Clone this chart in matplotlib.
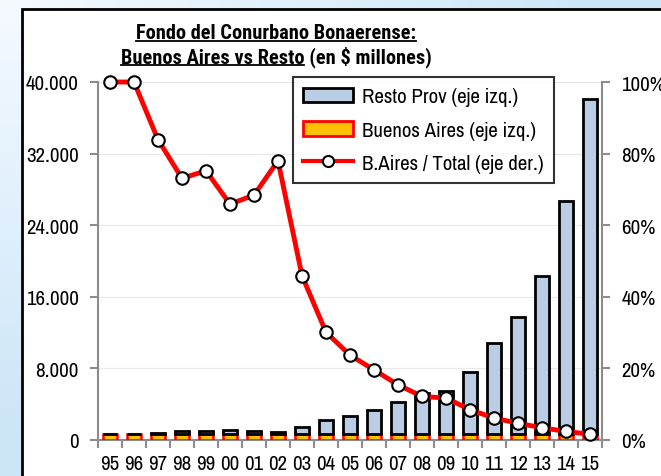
import matplotlib
matplotlib.use("Agg")
import matplotlib.pyplot as plt
import numpy as np
from matplotlib.patches import Rectangle, Patch
from matplotlib.lines import Line2D
from matplotlib.ticker import FuncFormatter, FixedLocator

NARROW = ["Archivo Narrow", "Liberation Sans", "DejaVu Sans"]
NARROW_BOLD = ["Roboto Condensed", "Liberation Sans", "DejaVu Sans"]

# ── Data (millones de $) ──
years = ["95", "96", "97", "98", "99", "00", "01", "02", "03", "04", "05",
         "06", "07", "08", "09", "10", "11", "12", "13", "14", "15"]
bs_as = [650] * 21
resto = [0, 0, 170, 320, 320, 430, 320, 240, 800, 1550, 2070,
         2670, 3600, 4650, 4850, 6980, 10150, 13070, 17640, 26050, 37500]
ratio = [1.00, 1.00, 0.839, 0.731, 0.752, 0.659, 0.684, 0.780, 0.459, 0.301, 0.237,
         0.196, 0.154, 0.122, 0.117, 0.085, 0.061, 0.047, 0.034, 0.024, 0.016]

BLUE_FILL = "#b9cde5"
ORANGE = "#ffc000"
RED = "#ff0000"
GRAY = "#8c8c8c"
FS = 15

W, H = 661, 477
fig = plt.figure(figsize=(W / 100, H / 100), dpi=100)

# ── background gradient + white frame ──
bg = fig.add_axes([0, 0, 1, 1], zorder=-10)
xx, yy = np.meshgrid(np.linspace(0, 1, 200), np.linspace(0, 1, 200))
t = np.clip(np.maximum(xx * 1.1, yy * 1.1), 0, 1)
c0 = np.array([0.96, 0.98, 1.0])
c1 = np.array([0.80, 0.90, 0.97])
img = c0[None, None, :] * (1 - t[..., None]) + c1[None, None, :] * t[..., None]
bg.imshow(img, extent=[0, W, H, 0], aspect="auto")
bg.add_patch(Rectangle((22, 10), W, H, facecolor="white", edgecolor="black", lw=2))
bg.set_xlim(0, W)
bg.set_ylim(H, 0)
bg.axis("off")

# ── main axes ──
ax = fig.add_axes([98 / W, (H - 441) / H, 504 / W, 358 / H])
ax.set_facecolor("none")
x = np.arange(len(years))
ax.bar(x, bs_as, width=0.55, color=ORANGE, edgecolor=RED, lw=1.8, zorder=3)
ax.bar(x, resto, bottom=bs_as, width=0.55, color=BLUE_FILL, edgecolor="black", lw=2, zorder=3)
ax.set_xlim(-0.5, len(years) - 0.5)
ax.set_ylim(0, 40000)
ax.set_yticks(np.arange(0, 40001, 8000))
ax.yaxis.set_major_formatter(FuncFormatter(lambda v, p: f"{int(v):,}".replace(",", ".")))
ax.grid(axis="y", color="#e8e8e8", lw=0.8, zorder=0)
ax.set_xticks(x)
ax.set_xticklabels(years)
ax.xaxis.set_minor_locator(FixedLocator(np.arange(-0.5, len(years), 1)))
ax.tick_params(axis="x", which="major", length=0, pad=10)
ax.tick_params(axis="x", which="minor", length=6, width=1.5, color=GRAY)
ax.tick_params(axis="y", length=6, width=1.5, color=GRAY, pad=8)
for lab in ax.get_xticklabels() + ax.get_yticklabels():
    lab.set_family(NARROW)
    lab.set_fontsize(FS)
for s in ["top", "right"]:
    ax.spines[s].set_visible(False)
for s in ["left", "bottom"]:
    ax.spines[s].set_color(GRAY)
    ax.spines[s].set_linewidth(1.5)

# ── ratio (right axis) ──
ax2 = ax.twinx()
ax2.plot(x, ratio, color=RED, lw=3.5, marker="o", ms=9, mfc="white", mec="black",
         mew=1.5, zorder=5, clip_on=False)
ax2.set_ylim(0, 1)
ax2.set_yticks(np.arange(0, 1.01, 0.2))
ax2.yaxis.set_major_formatter(FuncFormatter(lambda v, p: f"{v*100:.0f}%"))
ax2.tick_params(axis="y", length=6, width=1.5, color=GRAY, pad=8)
for lab in ax2.get_yticklabels():
    lab.set_family(NARROW)
    lab.set_fontsize(FS)
for s in ["top", "left", "bottom"]:
    ax2.spines[s].set_visible(False)
ax2.spines["right"].set_color(GRAY)
ax2.spines["right"].set_linewidth(1.5)

# ── legend ──
handles = [
    Patch(facecolor=BLUE_FILL, edgecolor="black", lw=2),
    Patch(facecolor=ORANGE, edgecolor=RED, lw=2),
    Line2D([0], [0], color=RED, lw=3, marker="o", ms=8, mfc="white", mec="black", mew=1.5),
]
labels = ["Resto Prov (eje izq.)", "Buenos Aires (eje izq.)", "B.Aires / Total (eje der.)"]
leg = ax2.legend(handles, labels, loc="upper left", bbox_to_anchor=(293 / W, 1 - 78 / H),
                 bbox_transform=fig.transFigure, borderaxespad=0, frameon=True, fancybox=False,
                 edgecolor="black", handlelength=2.4, handleheight=0.7, labelspacing=0.68,
                 borderpad=0.5, handletextpad=0.4, prop={"family": NARROW, "size": FS})
leg.get_frame().set_linewidth(1.5)
leg.set_zorder(10)

# ── title with underlines ──
fig.canvas.draw()
r = fig.canvas.get_renderer()
tx = 276 / W
tkw = dict(fontsize=14.7, fontweight="bold", family=NARROW_BOLD)
t1 = fig.text(tx, 1 - 39 / H, "Fondo del Conurbano Bonaerense:", ha="center", va="baseline", **tkw)
t2 = fig.text(tx, 1 - 63 / H, "Buenos Aires vs Resto (en $ millones)", ha="center",
              va="baseline", **tkw)
tmp = fig.text(0, 0, "Buenos Aires vs Resto", **tkw)
b1 = t1.get_window_extent(r)
b2 = t2.get_window_extent(r)
wpart = tmp.get_window_extent(r).width
tmp.remove()
for x0, x1, yb in [(b1.x0, b1.x1, H - 39), (b2.x0, b2.x0 + wpart, H - 63)]:
    fig.add_artist(Line2D([x0 / W, x1 / W], [(yb - 2.5) / H] * 2, color="black", lw=1.3,
                          transform=fig.transFigure))

plt.savefig("out.png", dpi=100)
